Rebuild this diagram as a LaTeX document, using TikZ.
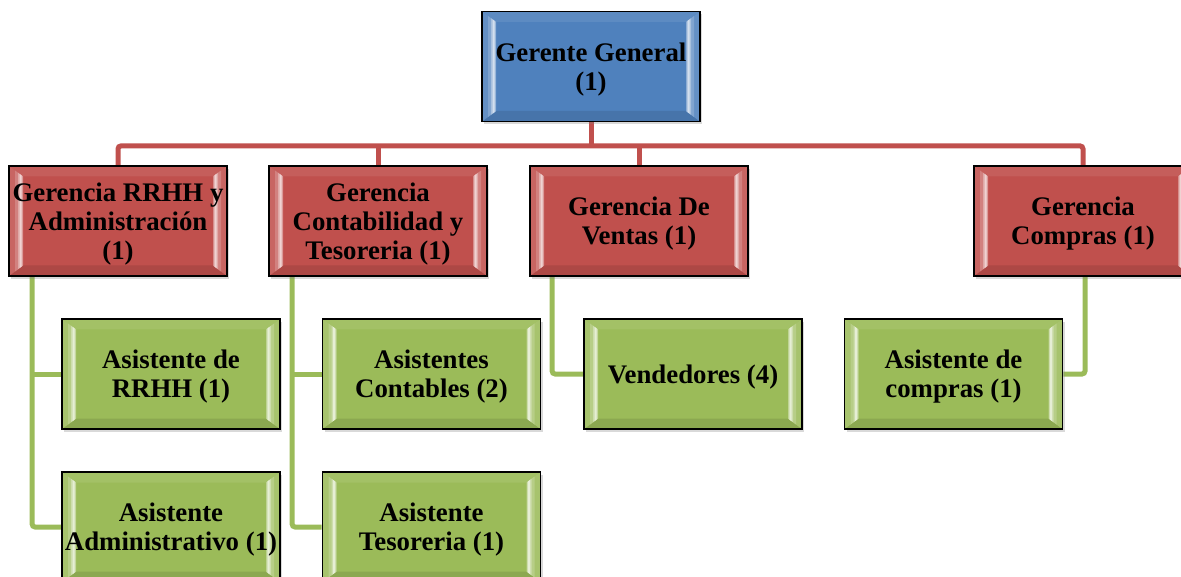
\documentclass[tikz,border=0pt]{standalone}
\usepackage{fontspec}
\setmainfont{Liberation Serif}
\usetikzlibrary{calc,shadows,backgrounds}
\definecolor{cblue}{HTML}{4F81BD}
\definecolor{cred}{HTML}{C0504D}
\definecolor{cgreen}{HTML}{9BBB59}
\newcommand\bevband[3]{%
  \fill[#1]
    ($(path picture bounding box.north west)+({#2*1pt},{-0.75*#2*1pt})$) --
    ($(path picture bounding box.north west)+({#3*1pt},{-0.75*#3*1pt})$) --
    ($(path picture bounding box.south west)+({#3*1pt},{0.75*#3*1pt})$) --
    ($(path picture bounding box.south west)+({#2*1pt},{0.75*#2*1pt})$) -- cycle;
  \fill[#1]
    ($(path picture bounding box.north east)+({-#2*1pt},{-0.75*#2*1pt})$) --
    ($(path picture bounding box.north east)+({-#3*1pt},{-0.75*#3*1pt})$) --
    ($(path picture bounding box.south east)+({-#3*1pt},{0.75*#3*1pt})$) --
    ($(path picture bounding box.south east)+({-#2*1pt},{0.75*#2*1pt})$) -- cycle;}
\tikzset{
  orgbox/.style={draw=black, line width=1.8pt, fill=#1,
    minimum width=218pt, minimum height=110pt, inner sep=2pt,
    drop shadow={opacity=0.3, shadow xshift=2pt, shadow yshift=-3pt},
    path picture={
      \fill[#1!92!white]
        (path picture bounding box.north west) -- (path picture bounding box.north east)
        -- ($(path picture bounding box.north east)+(-14pt,-10.5pt)$)
        -- ($(path picture bounding box.north west)+(14pt,-10.5pt)$) -- cycle;
      \fill[#1!90!black]
        (path picture bounding box.south west) -- (path picture bounding box.south east)
        -- ($(path picture bounding box.south east)+(-14pt,10.5pt)$)
        -- ($(path picture bounding box.south west)+(14pt,10.5pt)$) -- cycle;
      \bevband{#1!88!white}{0}{14}
      \bevband{#1!72!white}{6}{14}
      \bevband{#1!50!white}{9}{13.5}
      \bevband{#1!25!white}{10.5}{12.5}
    }},
  orgtext/.style={align=center, inner sep=0pt, yshift=-3pt,
    font=\bfseries\fontsize{26.8}{29}\selectfont},
  redline/.style={draw=cred, line width=5pt, rounded corners=3pt},
  greenline/.style={draw=cgreen, line width=5pt, rounded corners=3pt}
}
\begin{document}
\begin{tikzpicture}[x=1pt,y=-1pt]
\useasboundingbox (0,0) rectangle (1181,577);
% boxes
\node[orgbox=cblue,  label={[orgtext]center:{Gerente General\\(1)}}] (gg) at (591,66.5) {};
\node[orgbox=cred,   label={[orgtext]center:{Gerencia RRHH y\\Administración\\(1)}}] (rr) at (118,221) {};
\node[orgbox=cred,   label={[orgtext]center:{Gerencia\\Contabilidad y\\Tesoreria (1)}}] (co) at (378,221) {};
\node[orgbox=cred,   label={[orgtext]center:{Gerencia De\\Ventas (1)}}] (ve) at (639,221) {};
\node[orgbox=cred,   label={[orgtext]center:{Gerencia\\Compras (1)}}] (cp) at (1083,221) {};
\node[orgbox=cgreen, label={[orgtext]center:{Asistente de\\RRHH (1)}}] (arr) at (171,374) {};
\node[orgbox=cgreen, label={[orgtext]center:{Asistente\\Administrativo (1)}}] (aad) at (171,527) {};
\node[orgbox=cgreen, label={[orgtext]center:{Asistentes\\Contables (2)}}] (aco) at (431.5,374) {};
\node[orgbox=cgreen, label={[orgtext]center:{Asistente\\Tesoreria (1)}}] (ate) at (431.5,527) {};
\node[orgbox=cgreen, label={[orgtext]center:{Vendedores (4)}}] (ven) at (693,374) {};
\node[orgbox=cgreen, label={[orgtext]center:{Asistente de\\compras (1)}}] (acp) at (953.5,374) {};
% connectors
\begin{scope}[on background layer]
  \path (gg.south) ++(0,23.5) coordinate (bus);
  \draw[redline] (gg.south) -- (bus);
  \draw[redline] (rr.north) |- (bus) -| (cp.north);
  \draw[redline] (co.north) -- (co.north |- bus);
  \draw[redline] (ve.north) -- (ve.north |- bus);
  \path (rr.south west) ++(24,0) coordinate (t1);
  \path (co.south west) ++(24,0) coordinate (t2);
  \path (ve.south west) ++(23,0) coordinate (t3);
  \draw[greenline] (t1) |- (aad.west);
  \draw[greenline] (arr.west) -- (arr.west -| t1);
  \draw[greenline] (t2) |- (ate.west);
  \draw[greenline] (aco.west) -- (aco.west -| t2);
  \draw[greenline] (t3) |- (ven.west);
  \draw[greenline] (cp.south) ++(2,0) coordinate (t4) |- (acp.east);
\end{scope}
\end{tikzpicture}
\end{document}
